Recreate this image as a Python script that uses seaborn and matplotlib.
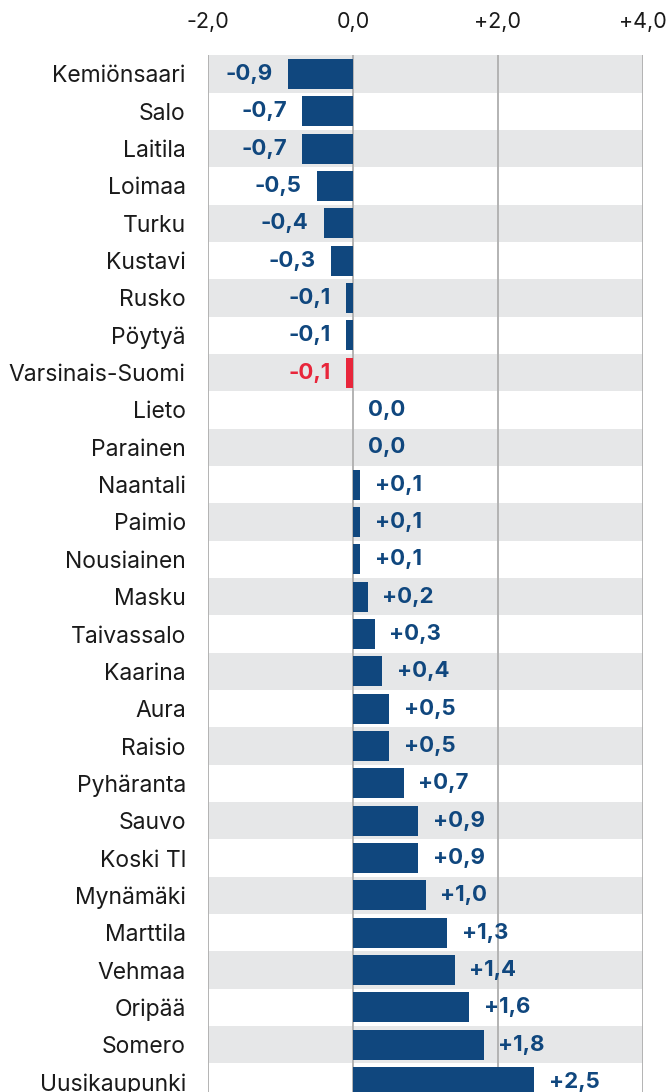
import pandas as pd
import matplotlib.pyplot as plt
import seaborn as sns

# data (change, percentage points)
municipalities = ['Kemiönsaari', 'Salo', 'Laitila', 'Loimaa', 'Turku', 'Kustavi',
                  'Rusko', 'Pöytyä', 'Varsinais-Suomi', 'Lieto', 'Parainen',
                  'Naantali', 'Paimio', 'Nousiainen', 'Masku', 'Taivassalo',
                  'Kaarina', 'Aura', 'Raisio', 'Pyhäranta', 'Sauvo', 'Koski Tl',
                  'Mynämäki', 'Marttila', 'Vehmaa', 'Oripää', 'Somero', 'Uusikaupunki']
change = [-0.9, -0.7, -0.7, -0.5, -0.4, -0.3, -0.1, -0.1, -0.1, 0.0, 0.0,
          0.1, 0.1, 0.1, 0.2, 0.3, 0.4, 0.5, 0.5, 0.7, 0.9, 0.9,
          1.0, 1.3, 1.4, 1.6, 1.8, 2.5]
highlight = 'Varsinais-Suomi'
x_ticks = [-2, 0, 2, 4]
x_ticklabels = ['-2,0', '0,0', '+2,0', '+4,0']

df = pd.DataFrame({'Kunta': municipalities, 'Muutos': change})

BLUE = '#10477e'
RED = '#e8263b'
GREY_BAND = '#e6e7e8'
GRID = '#b3b3b3'

sns.set_style('white')
plt.rcParams['font.family'] = ['Inter', 'DejaVu Sans']

fig = plt.figure(figsize=(6.68, 10.92), dpi=100)
top = 1 - 55.3 / 1092
bottom = 1 - 1100.7 / 1092
ax = fig.add_axes([208 / 668, bottom, 435 / 668, top - bottom])

palette = {k: (RED if k == highlight else BLUE) for k in municipalities}
sns.barplot(data=df, x='Muutos', y='Kunta', hue='Kunta', palette=palette,
            order=municipalities, orient='h', width=0.8, legend=False,
            saturation=1, linewidth=0, ax=ax, zorder=3)

# alternating row bands
for i in range(0, len(municipalities), 2):
    ax.axhspan(i - 0.5, i + 0.5, color=GREY_BAND, zorder=0, lw=0)

for t in x_ticks:
    ax.axvline(t, color=GRID, lw=1.4, zorder=1)

# value labels
for i, v in enumerate(change):
    col = RED if municipalities[i] == highlight else BLUE
    if v > 0:
        txt = '+' + f'{v:.1f}'.replace('.', ',')
    else:
        txt = f'{v:.1f}'.replace('.', ',')
    if v < 0:
        ax.annotate(txt, (v, i), xytext=(-11, 0), textcoords='offset points',
                    ha='right', va='center', color=col, fontsize=16,
                    fontweight='bold', zorder=4)
    else:
        ax.annotate(txt, (v, i), xytext=(10.5, 0), textcoords='offset points',
                    ha='left', va='center', color=col, fontsize=16,
                    fontweight='bold', zorder=4)

ax.set_xlim(-2, 4)
ax.set_ylim(len(municipalities) - 0.5, -0.5)
ax.set_xticks(x_ticks)
ax.set_xticklabels(x_ticklabels)
ax.xaxis.tick_top()
ax.tick_params(axis='x', length=0, pad=17, labelsize=15.5, colors='#1a1a1a')
ax.tick_params(axis='y', length=0, pad=16, labelsize=16.5, colors='#1a1a1a')
ax.set_xlabel('')
ax.set_ylabel('')
for s in ax.spines.values():
    s.set_visible(False)

fig.savefig('out.png', dpi=100)
